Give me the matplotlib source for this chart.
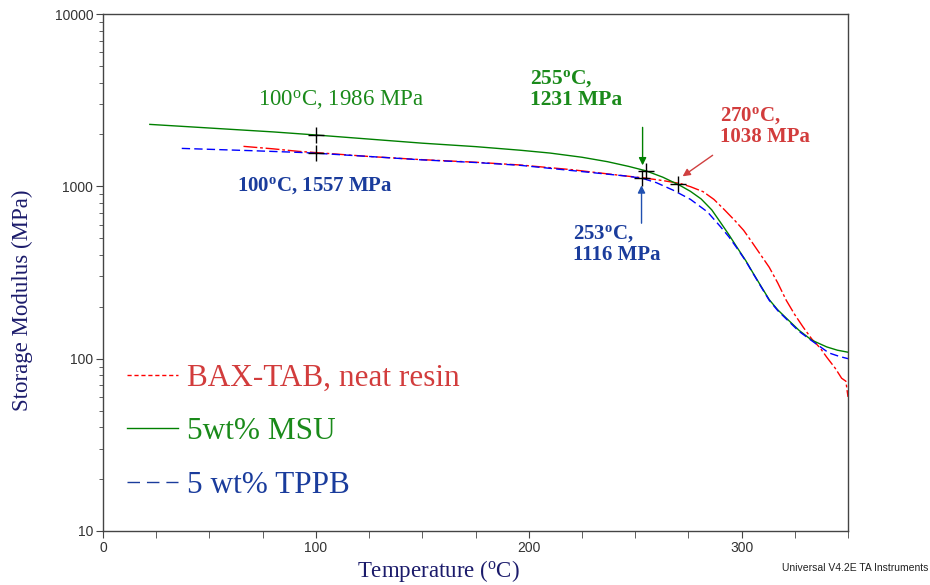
import matplotlib
matplotlib.use("Agg")
import matplotlib.pyplot as plt
from matplotlib.lines import Line2D
from matplotlib.ticker import FixedLocator, MultipleLocator, LogLocator, NullFormatter, FuncFormatter

plt.rcParams['mathtext.fontset'] = 'custom'
plt.rcParams['mathtext.rm'] = 'Liberation Serif'
plt.rcParams['mathtext.bf'] = 'Liberation Serif:bold'

# ---------------- data ----------------
neat_T = [66, 80, 92, 100, 125, 149, 175, 196, 220, 243, 255, 263, 271, 276, 282, 287, 292, 297,
          301, 305, 309, 313, 317, 321, 325, 329, 333, 337, 340, 344, 347, 349, 350]
neat_E = [1706, 1650, 1595, 1570, 1490, 1430, 1380, 1330, 1250, 1158, 1115, 1080, 1040, 995, 930,
          840, 730, 630, 555, 472, 400, 339, 275, 218, 180, 152, 130, 115, 102, 88, 77, 74, 60]

msu_T = [22, 40, 60, 80, 100, 125, 150, 175, 196, 210, 225, 237, 247, 255, 263, 271, 276, 281,
         286, 290, 294, 298, 302, 305, 309, 313, 317, 321, 327, 333, 340, 345, 350]
msu_E = [2288, 2218, 2142, 2069, 1986, 1880, 1780, 1700, 1620, 1560, 1475, 1390, 1305, 1231, 1130,
         1013, 935, 845, 730, 620, 525, 440, 370, 320, 265, 220, 192, 172, 146, 128, 117, 112, 109]

tppb_T = [37, 50, 70, 92, 100, 125, 149, 175, 196, 227, 245, 253, 260, 268, 276, 284, 290, 294,
          298, 302, 305, 309, 313, 317, 321, 327, 333, 341, 346, 350]
tppb_E = [1660, 1640, 1610, 1574, 1557, 1490, 1426, 1375, 1324, 1211, 1150, 1116, 1050, 948, 840,
          710, 585, 510, 435, 368, 318, 263, 218, 190, 170, 144, 127, 108, 103, 100]

series_names = ["BAX-TAB, neat resin", "5wt% MSU", "5 wt% TPPB"]

ann_T = [100, 100, 255, 253, 270]
ann_E = [1986, 1557, 1231, 1116, 1038]

x_major = [0, 100, 200, 300]
y_major = [10, 100, 1000, 10000]

# ---------------- style ----------------
c_red, c_green, c_blue = "#ff0000", "#008000", "#0000ff"
t_red, t_green, t_blue = "#d23c3c", "#1a8a1a", "#1a3c9c"
navy = "#1b1b6b"

fig = plt.figure(figsize=(9.3, 5.85), dpi=100)
ax = fig.add_axes([103/930, 1-531/585, 745/930, 517/585])

ax.plot(neat_T, neat_E, color=c_red, lw=1.0, dashes=(10, 2, 2, 2))
ax.plot(msu_T, msu_E, color=c_green, lw=1.0)
ax.plot(tppb_T, tppb_E, color=c_blue, lw=1.0, dashes=(6, 3))

ax.plot(ann_T, ann_E, linestyle='none', marker='+', color='black', markersize=12, mew=1.0)

ax.set_yscale('log')
ax.set_xlim(0, 350)
ax.set_ylim(10, 10000)
ax.xaxis.set_major_locator(FixedLocator(x_major))
ax.xaxis.set_minor_locator(MultipleLocator(25))
ax.yaxis.set_major_locator(FixedLocator(y_major))
ax.yaxis.set_minor_locator(LogLocator(base=10, subs=range(2, 10)))
ax.yaxis.set_minor_formatter(NullFormatter())
ax.yaxis.set_major_formatter(FuncFormatter(lambda v, p: f"{int(round(v))}"))

for s in ax.spines.values():
    s.set_color("#444444")
    s.set_linewidth(1.0)
ax.tick_params(which='both', direction='out', colors="#444444", labelcolor="#333333",
               labelsize=10, top=False, right=False)
for lab in ax.get_xticklabels() + ax.get_yticklabels():
    lab.set_family('Liberation Sans')
ax.tick_params(which='major', length=5, pad=2)
ax.tick_params(axis='x', which='minor', length=5)
ax.tick_params(axis='y', which='minor', length=3)

ax.set_xlabel("Temperature ($\\mathrm{^o}$C)", family='Liberation Serif', fontsize=16.5,
              color=navy)
ax.xaxis.label.set_va('center')
ax.xaxis.set_label_coords(0.45, -0.078)
ax.set_ylabel("Storage Modulus (MPa)", family='Liberation Serif', fontsize=16.5,
              color=navy)
ax.yaxis.label.set_va('center')
ax.yaxis.set_label_coords(-0.108, 0.447)

# annotations
ax.text(72.8, 3190, "100$\\mathrm{^o}$C, 1986 MPa", color=t_green, fontsize=16.5,
        family='Liberation Serif', ha='left', va='center')
ax.text(62.9, 1014, "100$\\mathbf{^o}$C, 1557 MPa", color=t_blue, fontsize=15,
        family='Liberation Serif', weight='bold', ha='left', va='center')
ax.text(200.5, 3650, "255$\\mathbf{^o}$C,\n1231 MPa", color=t_green, fontsize=15.5,
        family='Liberation Serif', weight='bold', ha='left', va='center', linespacing=1.05)
ax.text(289.7, 2228, "270$\\mathbf{^o}$C,\n1038 MPa", color=t_red, fontsize=15,
        family='Liberation Serif', weight='bold', ha='left', va='center', linespacing=1.05)
ax.text(220.7, 464, "253$\\mathbf{^o}$C,\n1116 MPa", color=t_blue, fontsize=15,
        family='Liberation Serif', weight='bold', ha='left', va='center', linespacing=1.05)

ax.annotate("", xy=(253.5, 1324), xytext=(253.5, 2198),
            arrowprops=dict(arrowstyle='-|>', color=c_green, lw=1.0, mutation_scale=11,
                            shrinkA=0, shrinkB=0))
ax.annotate("", xy=(253, 1013), xytext=(253, 611),
            arrowprops=dict(arrowstyle='-|>', color="#2050b0", lw=1.0, mutation_scale=11,
                            shrinkA=0, shrinkB=0))
ax.annotate("", xy=(272.3, 1143), xytext=(286.4, 1514),
            arrowprops=dict(arrowstyle='-|>', color="#d04040", lw=1.0, mutation_scale=11,
                            shrinkA=0, shrinkB=0))

# legend
handles = [Line2D([], [], color=c_red, lw=1.0, dashes=(3, 2)),
           Line2D([], [], color=c_green, lw=1.0),
           Line2D([], [], color="#1a3c9c", lw=1.0, dashes=(9, 5))]
leg = ax.legend(handles, series_names, loc='center left', bbox_to_anchor=(0.032, 0.192),
                frameon=False, prop={'family': 'Liberation Serif', 'size': 22.5},
                handlelength=1.65, handletextpad=0.28, labelspacing=0.78,
                borderpad=0, borderaxespad=0)
for txt, col in zip(leg.get_texts(), [t_red, t_green, t_blue]):
    txt.set_color(col)

fig.text(0.998, 1-568/585, "Universal V4.2E TA Instruments", family='Liberation Sans',
         fontsize=7.5, color="#222222", ha='right', va='center')

fig.savefig("out.png", dpi=100)
